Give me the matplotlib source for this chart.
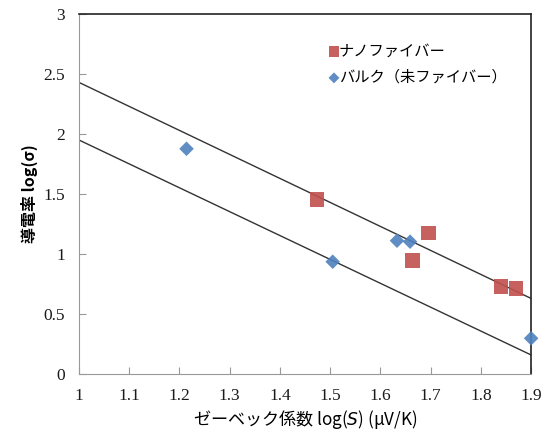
import numpy as np
import matplotlib
matplotlib.use('Agg')
import matplotlib.pyplot as plt

plt.rcParams['font.family'] = ['Noto Sans CJK JP', 'DejaVu Sans']

# data
nano_x = [1.474, 1.664, 1.696, 1.840, 1.870]
nano_y = [1.455, 0.944, 1.175, 0.729, 0.713]
bulk_x = [1.214, 1.505, 1.633, 1.659, 1.900]
bulk_y = [1.877, 0.936, 1.111, 1.103, 0.298]

# guide lines: value at x=1 and slope
line_x = [1.0, 1.9]
upper_b, upper_m = 2.43, -2.0
lower_b, lower_m = 1.95, -1.99

xticks = [1, 1.1, 1.2, 1.3, 1.4, 1.5, 1.6, 1.7, 1.8, 1.9]
yticks = [0, 0.5, 1, 1.5, 2, 2.5, 3]

fig = plt.figure(figsize=(5.48, 4.38), dpi=100)
ax = fig.add_axes([0.1442, 0.146, 0.825, 0.822])

lx = np.array(line_x)
ax.plot(lx, upper_b + upper_m * (lx - 1), color='#333333', lw=1.0, zorder=1)
ax.plot(lx, lower_b + lower_m * (lx - 1), color='#333333', lw=1.0, zorder=1)

ax.scatter(nano_x, nano_y, marker='s', s=110, color='#C0504D', alpha=0.9,
           edgecolors='none', label='ナノファイバー', zorder=3, clip_on=False)
ax.scatter(bulk_x, bulk_y, marker='D', s=55, color='#4F81BD', alpha=0.9,
           edgecolors='none', label='バルク（未ファイバー）', zorder=3, clip_on=False)

ax.set_xlim(1, 1.9)
ax.set_ylim(0, 3)
ax.set_xticks(xticks)
ax.set_xticklabels([f'{v:g}' for v in xticks])
ax.set_yticks(yticks)
ax.set_yticklabels([f'{v:g}' for v in yticks])
ax.tick_params(direction='in', length=5, color='#999999', labelsize=12.5)
for lab in ax.get_xticklabels() + ax.get_yticklabels():
    lab.set_family('Liberation Serif')
    lab.set_color('#1a1a1a')
ax.tick_params(axis='x', pad=10)
ax.tick_params(axis='y', pad=10)

ax.spines['left'].set_color('#999999')
ax.spines['bottom'].set_color('#999999')
ax.spines['top'].set_color('#222222')
ax.spines['right'].set_color('#222222')
ax.spines['top'].set_linewidth(1.2)
ax.spines['right'].set_linewidth(1.2)

ax.set_xlabel('ゼーベック係数 log($S$) (μV/K)', fontsize=12.3, labelpad=3)
ax.set_ylabel('導電率 log(σ)', fontsize=11.5, fontweight='bold', labelpad=4)

ax.legend(loc='upper left', bbox_to_anchor=(0.52, 0.95), frameon=False,
          fontsize=11, handletextpad=-0.3, handlelength=1.2, borderaxespad=0.3,
          labelspacing=0.6, markerscale=0.75)

fig.savefig('out.png', dpi=100)
